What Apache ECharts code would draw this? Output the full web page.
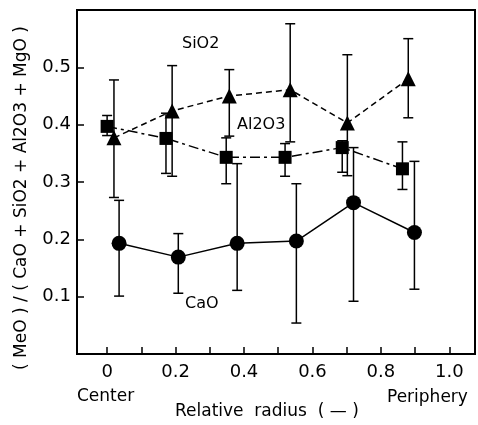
<!DOCTYPE html>
<html>
<head>
<meta charset="utf-8">
<script src="https://cdn.jsdelivr.net/npm/echarts@6/dist/echarts.min.js"></script>
<style>
  html, body { margin: 0; padding: 0; background: #fff; }
  #chart { width: 478px; height: 425px; }
</style>
</head>
<body>
<div id="chart"></div>
<script>
// relative radius positions and ratios
const sio2X = [0.02, 0.19, 0.357, 0.535, 0.702, 0.88]
const sio2Y = [0.377, 0.424, 0.450, 0.461, 0.403, 0.480]
const sio2Hi = [0.478, 0.503, 0.496, 0.576, 0.522, 0.550]
const sio2Lo = [0.273, 0.310, 0.380, 0.370, 0.311, 0.412]

const al2o3X = [0.0, 0.172, 0.348, 0.52, 0.687, 0.863]
const al2o3Y = [0.397, 0.376, 0.343, 0.343, 0.360, 0.323]
const al2o3Hi = [0.416, 0.420, 0.377, 0.367, 0.372, 0.370]
const al2o3Lo = [0.381, 0.315, 0.297, 0.310, 0.317, 0.287]

const caoX = [0.035, 0.208, 0.38, 0.553, 0.72, 0.898]
const caoY = [0.193, 0.169, 0.193, 0.197, 0.264, 0.212]
const caoHi = [0.268, 0.210, 0.332, 0.297, 0.360, 0.336]
const caoLo = [0.101, 0.106, 0.111, 0.054, 0.092, 0.113]

const xTicks = [0, 0.1, 0.2, 0.3, 0.4, 0.5, 0.6, 0.7, 0.8, 0.9, 1.0]
const xLabels = [0, 0.2, 0.4, 0.6, 0.8, 1.0]
const yTicks = [0.1, 0.2, 0.3, 0.4, 0.5]

const font = 'DejaVu Sans'
const pts = (xs, ys) => xs.map((x, i) => [x, ys[i]])
const bars = (xs, lo, hi) => xs.map((x, i) => [x, lo[i], hi[i]])

function errorBar(params, api) {
  const x = api.value(0)
  const lo = api.coord([x, api.value(1)])
  const hi = api.coord([x, api.value(2)])
  const w = 5
  const st = { stroke: '#000', lineWidth: 1.5 }
  return {
    type: 'group',
    children: [
      { type: 'line', shape: { x1: lo[0], y1: lo[1], x2: hi[0], y2: hi[1] }, style: st },
      { type: 'line', shape: { x1: lo[0] - w, y1: lo[1], x2: lo[0] + w, y2: lo[1] }, style: st },
      { type: 'line', shape: { x1: hi[0] - w, y1: hi[1], x2: hi[0] + w, y2: hi[1] }, style: st },
    ],
  }
}

const chart = echarts.init(document.getElementById('chart'))
const txt = (text, x, y, size) => ({
  type: 'text', left: x, top: y,
  style: { text, fill: '#000', font: `${size}px "${font}"` },
})

chart.setOption({
  animation: false,
  grid: { left: 77, top: 10, right: 3, bottom: 71, show: true, borderColor: '#000', borderWidth: 2 },
  xAxis: {
    type: 'value', min: -0.088, max: 1.075,
    axisLine: { onZero: false, lineStyle: { color: '#000', width: 2 } },
    axisTick: { inside: true, length: 7, customValues: xTicks, lineStyle: { color: '#000', width: 1.5 } },
    axisLabel: {
      customValues: xLabels, color: '#000', fontFamily: font, fontSize: 18, margin: 9,
      formatter: v => (v === 0 ? '0' : v.toFixed(1)),
    },
    splitLine: { show: false },
  },
  yAxis: {
    type: 'value', min: 0, max: 0.6,
    axisLine: { onZero: false, lineStyle: { color: '#000', width: 2 } },
    axisTick: { inside: true, length: 7, customValues: yTicks, lineStyle: { color: '#000', width: 1.5 } },
    axisLabel: {
      customValues: yTicks, color: '#000', fontFamily: font, fontSize: 18, margin: 6,
      formatter: v => v.toFixed(1),
    },
    splitLine: { show: false },
  },
  graphic: [
    txt('SiO2', 182, 36, 16),
    txt('Al2O3', 237, 117, 16),
    txt('CaO', 185, 296, 16),
    txt('Center', 77, 388, 17),
    txt('Periphery', 387, 389, 17),
    txt('Relative  radius  ( — )', 175, 403, 17),
    {
      type: 'text', x: 22, y: 198, rotation: Math.PI / 2,
      style: { text: '( MeO ) / ( CaO + SiO2 + Al2O3 + MgO )', fill: '#000', font: `17px "${font}"`, align: 'center', verticalAlign: 'middle' },
    },
  ],
  series: [
    { type: 'custom', renderItem: errorBar, data: bars(sio2X, sio2Lo, sio2Hi), z: 1 },
    { type: 'custom', renderItem: errorBar, data: bars(al2o3X, al2o3Lo, al2o3Hi), z: 1 },
    { type: 'custom', renderItem: errorBar, data: bars(caoX, caoLo, caoHi), z: 1 },
    {
      name: 'SiO2', type: 'line', data: pts(sio2X, sio2Y), symbol: 'triangle', symbolSize: 15,
      lineStyle: { color: '#000', width: 1.5, type: [6, 4] }, itemStyle: { color: '#000' }, z: 3,
    },
    {
      name: 'Al2O3', type: 'line', data: pts(al2o3X, al2o3Y), symbol: 'rect', symbolSize: 13,
      lineStyle: { color: '#000', width: 1.5, type: [10, 4, 3, 4] }, itemStyle: { color: '#000' }, z: 3,
    },
    {
      name: 'CaO', type: 'line', data: pts(caoX, caoY), symbol: 'circle', symbolSize: 15,
      lineStyle: { color: '#000', width: 1.5 }, itemStyle: { color: '#000' }, z: 3,
    },
  ],
})
</script>
</body>
</html>
